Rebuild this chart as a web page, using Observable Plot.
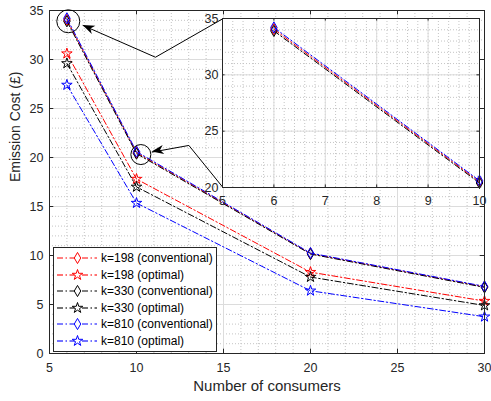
<!DOCTYPE html>
<html>
<head>
<meta charset="utf-8">
<script src="https://cdn.jsdelivr.net/npm/d3@7"></script>
<script src="https://cdn.jsdelivr.net/npm/@observablehq/plot@0.6"></script>
<style>
  body { margin: 0; background: white; }
  #wrap { position: relative; width: 491px; height: 401px; font-family: "Liberation Sans", Arial, sans-serif; }
  #wrap svg { position: absolute; }
  #legend { position: absolute; left: 53px; top: 247px; width: 162px; height: 101px; border: 1px solid #262626; background: white; padding-top: 2px; box-sizing: content-box; }
  .row { height: 16.5px; display: flex; align-items: center; font-size: 12px; color: #000; white-space: nowrap; }
  .row svg { position: static !important; margin-left: 3px; margin-right: 4px; }
</style>
</head>
<body>
<div id="wrap"></div>
<script>
// ---------- data ----------
const consumers = [6, 10, 20, 30];
const k198Conventional = [34.05, 20.5, 10.2, 6.8];
const k198Optimal      = [30.6, 17.8, 8.3, 5.35];
const k330Conventional = [33.9, 20.4, 10.15, 6.75];
const k330Optimal      = [29.6, 17.0, 7.8, 4.9];
const k810Conventional = [34.2, 20.6, 10.25, 6.85];
const k810Optimal      = [27.4, 15.35, 6.4, 3.75];
const seriesNames = ["k=198 (conventional)", "k=198 (optimal)", "k=330 (conventional)", "k=330 (optimal)", "k=810 (conventional)", "k=810 (optimal)"];
const xTicks = [5, 10, 15, 20, 25, 30];
const yTicks = [0, 5, 10, 15, 20, 25, 30, 35];
const insetXTicks = [5, 6, 7, 8, 9, 10];
const insetYTicks = [20, 25, 30, 35];
// zoom annotations (main-axes data units)
const circle1 = {x: 6.08, y: 33.9};
const circle2 = {x: 10.25, y: 20.3};
const arrow1X = [6.93, 11.09, 14.95];
const arrow1Y = [33.47, 30.23, 34.15];
const arrow2X = [10.9, 13.01, 14.95];
const arrow2Y = [20.55, 21.23, 16.98];

// ---------- styles ----------
const colors = ["#ff0000", "#ff0000", "#000000", "#000000", "#0000ff", "#0000ff"];
const symbols = ["diamond", "star", "diamond", "star", "diamond", "star"];
const allValues = [k198Conventional, k198Optimal, k330Conventional, k330Optimal, k810Conventional, k810Optimal];
const dash = "6,2.5,1.5,2.5";
const axisColor = "#262626";
const font = "Liberation Sans, Arial, sans-serif";

const series = seriesNames.map((name, i) => ({
  name, color: colors[i], symbol: symbols[i],
  rows: consumers.map((x, j) => ({x, y: allValues[i][j]}))
}));

function seriesMarks(list, clipLines) {
  const out = [];
  for (const s of list) {
    out.push(Plot.line(s.rows, {x: "x", y: "y", stroke: s.color, strokeWidth: 1, strokeDasharray: dash, clip: clipLines}));
    out.push(Plot.dot(s.rows, {x: "x", y: "y", stroke: s.color, fill: "none", symbol: s.symbol, r: s.symbol === "star" ? 3.3 : 3.4, strokeWidth: 1}));
  }
  return out;
}

function arrowHeadMark(xsA, ysA) {
  return (index, scales) => {
    const ns = "http://www.w3.org/2000/svg";
    const tx = scales.x(xsA[0]), ty = scales.y(ysA[0]);
    const kx = scales.x(xsA[1]), ky = scales.y(ysA[1]);
    const a = Math.atan2(ty - ky, tx - kx) * 180 / Math.PI;
    const p = document.createElementNS(ns, "path");
    p.setAttribute("d", "M0,0L-12,-4.5L-8.5,0L-12,4.5Z");
    p.setAttribute("fill", "#000");
    p.setAttribute("transform", `translate(${tx},${ty}) rotate(${a})`);
    return p;
  };
}

// ---------- main chart ----------
const W = 491, H = 401, mL = 49, mR = 7, mT = 10, mB = 48;
const fw = W - mL - mR, fh = H - mT - mB, tl = 4.3;
const main = Plot.plot({
  width: W, height: H, marginLeft: mL, marginRight: mR, marginTop: mT, marginBottom: mB,
  x: {domain: [5, 30]}, y: {domain: [0, 35]},
  style: {background: "transparent", fontFamily: font, fontSize: "12.5px", color: axisColor},
  marks: [
    Plot.gridX(d3.range(5, 30.5, 1), {stroke: "#c4c4c4", strokeOpacity: 1, strokeDasharray: "1,2"}),
    Plot.gridY(d3.range(0, 35.5, 1), {stroke: "#c4c4c4", strokeOpacity: 1, strokeDasharray: "1,2"}),
    Plot.gridX(xTicks, {stroke: "#dcdcdc", strokeOpacity: 1}),
    Plot.gridY(yTicks, {stroke: "#dcdcdc", strokeOpacity: 1}),
    ...seriesMarks(series, false),
    Plot.frame({stroke: axisColor, strokeWidth: 1}),
    Plot.ruleX(xTicks, {stroke: axisColor, insetTop: fh - tl}),
    Plot.ruleX(xTicks, {stroke: axisColor, insetBottom: fh - tl}),
    Plot.ruleY(yTicks, {stroke: axisColor, insetLeft: fw - tl}),
    Plot.ruleY(yTicks, {stroke: axisColor, insetRight: fw - tl}),
    Plot.axisX(xTicks, {tickSize: 0, tickPadding: 10, label: null, fontSize: 12.5}),
    Plot.axisY(yTicks, {tickSize: 0, tickPadding: 6, label: null, fontSize: 12.5}),
    Plot.text(["Number of consumers"], {frameAnchor: "bottom", lineAnchor: "middle", dy: 33, fontSize: 15, fill: axisColor}),
    Plot.text(["Emission Cost (£)"], {frameAnchor: "left", lineAnchor: "middle", dx: -34, rotate: -90, fontSize: 14, fill: axisColor}),
    Plot.dot([circle1], {x: "x", y: "y", r: 11.5, stroke: "#000", fill: "none", strokeWidth: 1}),
    Plot.dot([circle2], {x: "x", y: "y", r: 10, stroke: "#000", fill: "none", strokeWidth: 1}),
    Plot.line(arrow1X.map((x, i) => ({x, y: arrow1Y[i]})), {x: "x", y: "y", stroke: "#000", strokeWidth: 1}),
    Plot.line(arrow2X.map((x, i) => ({x, y: arrow2Y[i]})), {x: "x", y: "y", stroke: "#000", strokeWidth: 1}),
    arrowHeadMark(arrow1X, arrow1Y),
    arrowHeadMark(arrow2X, arrow2Y)
  ]
});
main.style.left = "0px"; main.style.top = "0px";

// ---------- inset ----------
const IW = 301, IH = 215, iL = 32, iR = 12, iT = 18, iB = 28;
const ifw = IW - iL - iR, ifh = IH - iT - iB, itl = 2.6;
const inset = Plot.plot({
  width: IW, height: IH, marginLeft: iL, marginRight: iR, marginTop: iT, marginBottom: iB,
  x: {domain: [5, 10]}, y: {domain: [20, 35]},
  style: {background: "transparent", fontFamily: font, fontSize: "12.5px", color: axisColor},
  marks: [
    Plot.frame({fill: "white"}),
    Plot.gridX(d3.range(5, 10.05, 0.2), {stroke: "#c4c4c4", strokeOpacity: 1, strokeDasharray: "1,2"}),
    Plot.gridY(d3.range(20, 35.5, 1), {stroke: "#c4c4c4", strokeOpacity: 1, strokeDasharray: "1,2"}),
    Plot.gridX(insetXTicks, {stroke: "#dcdcdc", strokeOpacity: 1}),
    Plot.gridY(insetYTicks, {stroke: "#dcdcdc", strokeOpacity: 1}),
    ...seriesMarks(series.filter((s, i) => i % 2 === 0), true),
    Plot.frame({stroke: axisColor, strokeWidth: 1}),
    Plot.ruleX(insetXTicks, {stroke: axisColor, insetTop: ifh - itl}),
    Plot.ruleX(insetXTicks, {stroke: axisColor, insetBottom: ifh - itl}),
    Plot.ruleY(insetYTicks, {stroke: axisColor, insetLeft: ifw - itl}),
    Plot.ruleY(insetYTicks, {stroke: axisColor, insetRight: ifw - itl}),
    Plot.axisX(insetXTicks, {tickSize: 0, tickPadding: 9, label: null, fontSize: 12.5}),
    Plot.axisY(insetYTicks, {tickSize: 0, tickPadding: 4, label: null, fontSize: 12.5})
  ]
});
inset.style.left = "190px"; inset.style.top = "0px";

const wrap = document.getElementById("wrap");
wrap.appendChild(main);
wrap.appendChild(inset);

// ---------- legend ----------
const legend = document.createElement("div");
legend.id = "legend";
series.forEach((s, i) => {
  const row = document.createElement("div");
  row.className = "row";
  const optimal = s.symbol === "star";
  const sym = d3.symbol(optimal ? d3.symbolStar : d3.symbolDiamond, optimal ? 34 : 36)();
  row.innerHTML = `<svg width="40" height="14" viewBox="0 0 40 14">
    <line x1="0" x2="40" y1="7" y2="7" stroke="${s.color}" stroke-width="${optimal ? 2 : 1}" stroke-opacity="${optimal ? 0.55 : 1}" stroke-dasharray="${dash}"/>
    <path d="${sym}" transform="translate(20.5,7)" fill="white" stroke="${s.color}" stroke-width="1"/>
  </svg><span>${s.name}</span>`;
  legend.appendChild(row);
});
wrap.appendChild(legend);
</script>
</body>
</html>
